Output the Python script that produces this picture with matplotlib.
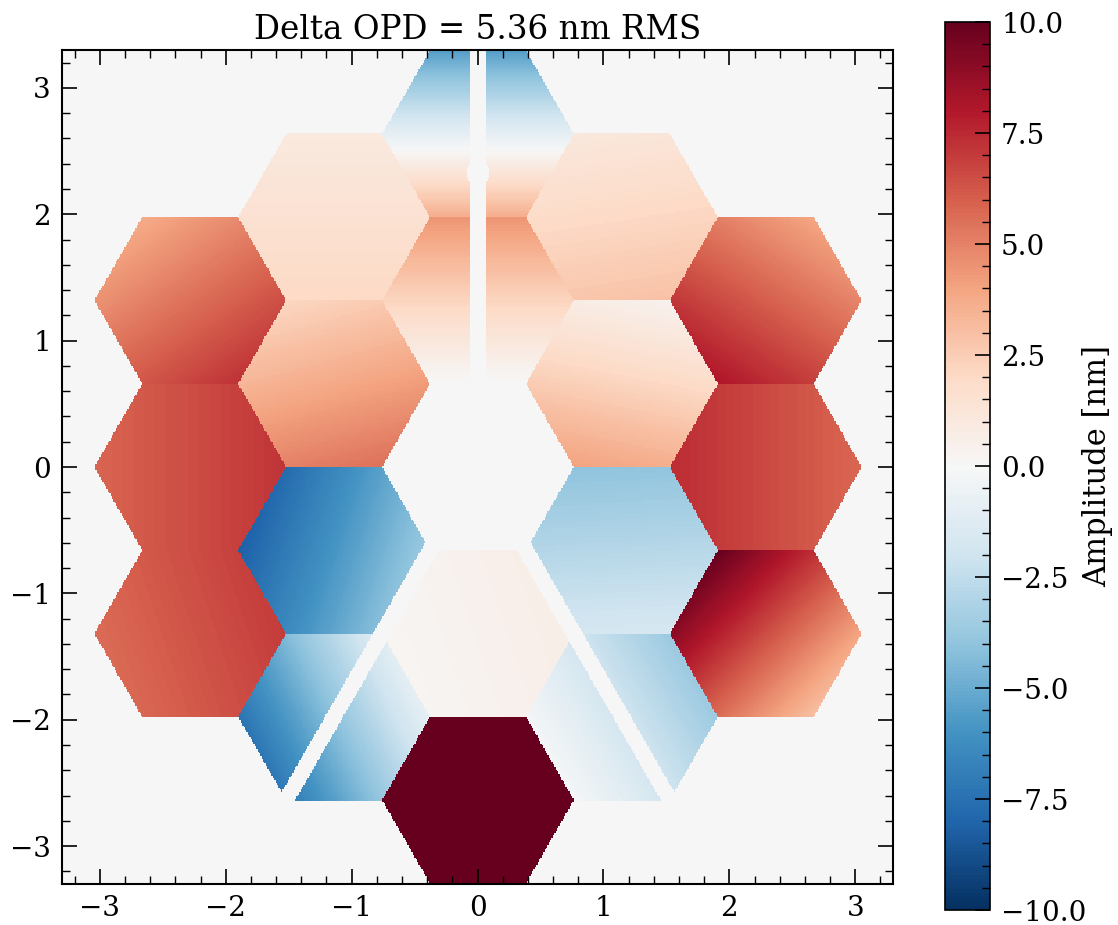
import numpy as np
import matplotlib
matplotlib.use("Agg")
import matplotlib.pyplot as plt
from matplotlib.ticker import AutoMinorLocator, MultipleLocator, FixedLocator

plt.rcParams['font.family'] = ['DejaVu Serif']

# ---- segment wavefront terms (nm): piston at centre, tilt along x, tilt along y (nm per m)
# inner ring, clockwise from top, then outer ring clockwise from top
piston = [2.2, 2.2, -2.85, 0.4, -5.9, 3.8,
          -0.9, 2.0, 6.0, 6.6, 6.5, -1.9, 12.0, -4.1, 6.3, 6.5, 5.5, 1.5]
tilt_x = [0.0, -0.5, 0.1, 0.3, 3.0, 0.6,
          0.0, 0.2, -1.5, -1.1, -3.4, -2.3, 0.0, 4.3, 0.9, 0.9, 1.3, 0.0]
tilt_y = [3.4, -2.5, -1.75, 0.1, -1.0, -2.2,
          -7.0, -1.3, -2.3, 0.0, 3.3, -1.36, 0.0, 2.1, 0.3, 0.0, -1.9, -0.8]

cbar_ticks = [-10.0, -7.5, -5.0, -2.5, 0.0, 2.5, 5.0, 7.5, 10.0]
title_text = "Delta OPD = 5.36 nm RMS"
cbar_label = "Amplitude [nm]"

# ---- pupil geometry
half = 3.3               # half width of the pupil plane (m)
pitch = 1.32             # flat-to-flat segment size (m)
R = pitch / np.sqrt(3)   # hexagon circumradius
strut_w = 0.125
N = 600


def segment_centres():
    inner, outer = [], []
    for k in range(6):
        t = np.deg2rad(90 - 60 * k)
        inner.append((pitch * np.cos(t), pitch * np.sin(t)))
    for k in range(6):
        t = np.deg2rad(90 - 60 * k)
        outer.append((2 * pitch * np.cos(t), 2 * pitch * np.sin(t)))
        t2 = np.deg2rad(60 - 60 * k)
        outer.append((np.sqrt(3) * pitch * np.cos(t2), np.sqrt(3) * pitch * np.sin(t2)))
    return inner + outer


centres = segment_centres()

xs = np.linspace(-half, half, N)
X, Y = np.meshgrid(xs, xs)
opd = np.zeros_like(X)

for (cx, cy), p, tx, ty in zip(centres, piston, tilt_x, tilt_y):
    dx = X - cx
    dy = Y - cy
    inside = (np.abs(dy) <= pitch / 2) & (np.sqrt(3) * np.abs(dx) + np.abs(dy) <= np.sqrt(3) * R)
    opd[inside] = p + tx * dx[inside] + ty * dy[inside]

# secondary-mirror support struts
mask = np.zeros_like(X, dtype=bool)
mask |= (np.abs(X) <= strut_w / 2) & (Y >= 0.7)
mask |= ((X / 0.09) ** 2 + ((Y - 2.33) / 0.10) ** 2) <= 1.0
for ang in (-60.0, -120.0):
    ux, uy = np.cos(np.deg2rad(ang)), np.sin(np.deg2rad(ang))
    along = X * ux + Y * uy
    perp = np.abs(-X * uy + Y * ux)
    mask |= (perp <= strut_w / 2) & (along >= 0.6)
opd[mask] = 0.0

# ---- figure
fig = plt.figure(figsize=(11.18, 9.25), dpi=100)
ax = fig.add_axes([62 / 1118, 1 - 884 / 925, 831 / 1118, 834 / 925])
cax = fig.add_axes([945 / 1118, 1 - 910 / 925, 45 / 1118, 888 / 925])

im = ax.imshow(opd, extent=[-half, half, -half, half], origin='lower',
               cmap='RdBu_r', vmin=-10, vmax=10, interpolation='nearest')
ax.set_xlim(-half, half)
ax.set_ylim(-half, half)
ax.set_aspect('auto')
ax.set_title(title_text, fontsize=23.5, pad=8)

ax.xaxis.set_major_locator(MultipleLocator(1))
ax.yaxis.set_major_locator(MultipleLocator(1))
ax.xaxis.set_minor_locator(AutoMinorLocator(5))
ax.yaxis.set_minor_locator(AutoMinorLocator(5))
ax.tick_params(which='both', direction='in', top=True, right=True, labelsize=20)
ax.tick_params(which='major', length=11, width=1.2, pad=8)
ax.tick_params(which='minor', length=6, width=1.0)
for s in ax.spines.values():
    s.set_linewidth(1.5)

cb = fig.colorbar(im, cax=cax)
cb.set_ticks(cbar_ticks)
cb.ax.set_yticklabels([f"{t:.1f}".replace("-", "\u2212") for t in cbar_ticks])
cb.ax.yaxis.set_minor_locator(FixedLocator(np.arange(-10, 10.01, 0.5)))
cb.ax.tick_params(which='both', direction='in', labelsize=20)
cb.ax.tick_params(which='major', length=11, width=1.2, pad=8)
cb.ax.tick_params(which='minor', length=6, width=1.0)
cb.outline.set_linewidth(1.2)
cb.set_label(cbar_label, fontsize=22)
cb.ax.yaxis.set_label_coords(3.4, 0.5)
cb.ax.yaxis.label.set_verticalalignment('center')

fig.savefig("out.png", dpi=100)
